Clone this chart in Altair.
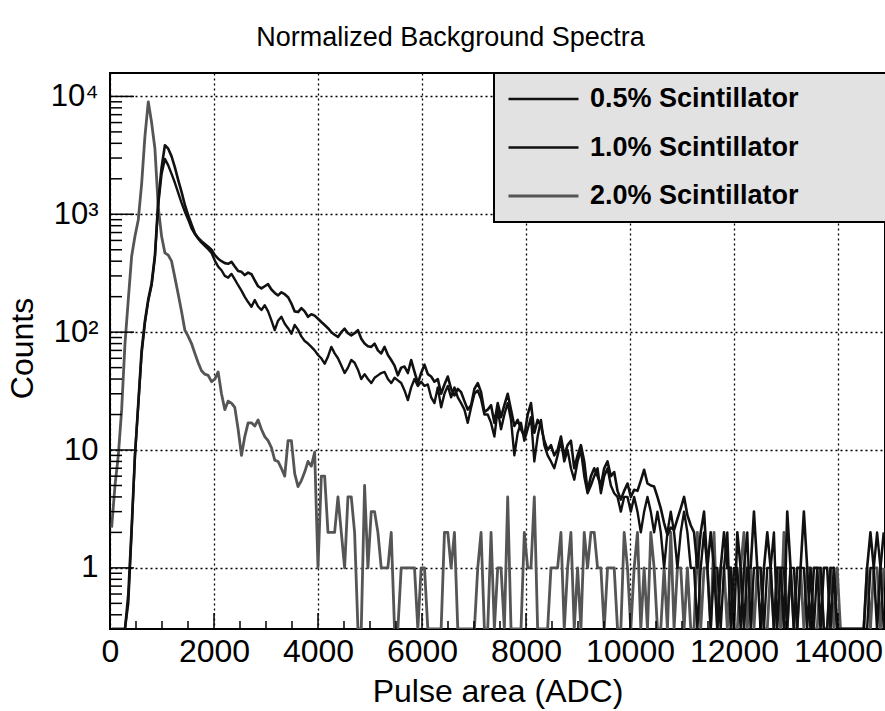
import altair as alt
import pandas as pd

# ---------------- data ----------------
BIN_WIDTH = 64  # ADC units per histogram bin
SERIES = ["0.5% Scintillator", "1.0% Scintillator", "2.0% Scintillator"]
COLORS = ["#111111", "#111111", "#555555"]
WIDTHS = [2.4, 2.8, 2.0]

counts_05 = [
    0, 0, 0, 0, 0, 0.5, 2, 9, 24, 65,                      # 0-9
    120, 185, 250, 430, 1200, 2200, 2950, 2600, 2200, 1850,  # 10-19
    1520, 1250, 1050, 900, 760, 680, 620, 575, 540, 505,     # 20-29
    470, 405, 360, 335, 300, 290, 312, 280, 250, 225,        # 30-39
    199, 180, 164, 187, 165, 154, 169, 150, 126, 104,        # 40-49
    125, 135, 118, 108, 97, 115, 105, 92, 84, 80,            # 50-59
    75, 70, 64, 60, 54, 62, 75, 66, 60, 52,                  # 60-69
    45, 50, 58, 55, 48, 40, 44, 40, 37, 41,                  # 70-79
    43, 45, 46, 40, 37, 41, 39, 37, 32, 26.5,                # 80-89
    34, 40, 35, 38, 35, 36, 28, 25, 34, 23,                  # 90-99
    30, 35, 28, 34, 28, 25, 22, 17, 23, 30,                  # 100-109
    32, 27, 20, 20, 17, 13, 22, 15, 20, 25,                  # 110-119
    18, 9, 14, 17, 12, 15, 19, 8, 13, 18,                    # 120-129
    11, 9, 8, 7, 9, 12, 8, 10, 7, 5.6,                       # 130-139
    8, 10, 6, 4.3, 5, 6, 7, 4.3, 6, 7,                       # 140-149
    5, 4.3, 4, 3, 4, 4, 3, 4, 3, 2,                          # 150-159
    3, 4, 3, 2, 3, 2, 1, 2, 3, 2,                            # 160-169
    1, 2, 3, 2, 1, 1, 0, 1, 2, 1,                            # 170-179
    0, 1, 1, 0, 1, 2, 0, 1, 1, 0,                            # 180-189
    1, 2, 0, 1, 1, 1, 0, 1, 1, 2,                            # 190-199
    0, 1, 1, 0, 1, 1, 0, 1, 1, 0,                            # 200-209
    1, 0, 1, 1, 0, 0, 1, 1, 0, 0,                            # 210-219
    0, 0, 0, 0, 0, 0, 0, 0, 1, 1,                            # 220-229
    2, 1, 0,                                                 # 230-232
]

counts_10 = [
    0, 0, 0, 0, 0, 0.6, 2.2, 9, 25, 70,                      # 0-9
    125, 190, 260, 450, 1300, 2500, 3850, 3600, 3100, 2500,  # 10-19
    1950, 1550, 1200, 980, 820, 690, 630, 590, 560, 530,     # 20-29
    500, 450, 420, 400, 385, 380, 395, 360, 330, 325,        # 30-39
    305, 320, 310, 275, 245, 235, 245, 255, 230, 215,        # 40-49
    205, 218, 210, 198, 175, 150, 148, 160, 150, 135,        # 50-59
    142, 138, 130, 122, 115, 108, 100, 95, 91, 100,          # 60-69
    107, 98, 94, 98, 104, 88, 80, 76, 75, 80,                # 70-79
    70, 66, 75, 64, 58, 52, 43, 50, 51, 45,                  # 80-89
    58, 46, 37, 45, 53, 44, 42, 38, 40, 30,                  # 90-99
    36, 42, 33, 29, 33, 31, 26, 22, 24, 33,                  # 100-109
    37, 31, 21, 22, 24, 17, 25, 19, 24, 30,                  # 110-119
    22, 16, 18, 15, 13, 20, 25, 14, 18, 16,                  # 120-129
    12, 10, 11, 9, 10, 13, 9, 11, 12, 7,                     # 130-139
    9, 11, 8, 4.5, 6, 7, 6, 5, 7, 8,                         # 140-149
    6, 6.5, 4.5, 3.8, 4.5, 5.2, 4, 4.6, 4.5, 5.5,            # 150-159
    6.8, 5.2, 5, 4.9, 4, 3.2, 2.4, 1.9, 2.2, 2.1,            # 160-169
    2.6, 3.2, 4, 2.8, 2.3, 2, 1, 2, 3, 1,                    # 170-179
    2, 1, 0, 1, 2, 1, 1, 0, 2, 1,                            # 180-189
    0, 1, 1, 3, 1, 0, 1, 2, 1, 0,                            # 190-199
    1, 1, 0, 3, 1, 0, 1, 1, 3, 1,                            # 200-209
    0, 1, 1, 0, 1, 1, 0, 1, 0, 0,                            # 210-219
    0, 0, 0, 0, 0, 0, 0, 1, 2, 1,                            # 220-229
    0, 1, 2,                                                 # 230-232
]

counts_20 = [
    2.2, 5, 9, 22, 80, 190, 440, 650, 900, 1800,             # 0-9
    4600, 9000, 6000, 3600, 1150, 650, 470, 450, 400, 290,   # 10-19
    210, 150, 104, 92, 80, 66, 55, 47, 44, 43,               # 20-29
    38, 40, 46, 30, 22, 26, 25, 23, 15, 9,                   # 30-39
    13, 17, 17, 16, 18, 15, 13, 12, 10.5, 8.2,               # 40-49
    8, 7, 6, 12, 12, 6.3, 4.9, 5.5, 6.5, 8,                  # 50-59
    7.3, 9.6, 1, 6, 6, 2, 2, 2, 4, 2,                        # 60-69
    1, 4, 4, 2, 0, 0, 5, 1, 3, 3,                            # 70-79
    2, 1, 1, 1, 2, 0, 0, 1, 1, 1,                            # 80-89
    1, 1, 0, 1, 1, 0, 0, 0, 0, 0,                            # 90-99
    2, 2, 1, 2, 0, 0, 0, 0, 0, 0,                            # 100-109
    1, 2, 0, 0, 2, 0, 1, 1, 0, 4,                            # 110-119
    0, 0, 0, 0, 2, 1, 1, 4, 0, 0,                            # 120-129
    0, 0, 1, 1, 1, 2, 0, 1, 2, 0,                            # 130-139
    1, 0, 2, 1, 2, 2, 1, 1, 0, 1,                            # 140-149
    1, 1, 0, 0, 2, 1, 0, 1, 2, 0,                            # 150-159
    1, 0, 2, 1, 0, 0, 1, 0, 2, 0,                            # 160-169
    1, 1, 0, 1, 0, 0, 2, 0, 1, 1,                            # 170-179
    0, 2, 0, 1, 1, 0, 1, 0, 0, 1,                            # 180-189
    2, 0, 1, 0, 1, 1, 0, 0, 1, 0,                            # 190-199
    1, 0, 2, 0, 1, 0, 0, 1, 0, 1,                            # 200-209
    1, 0, 0, 1, 0, 0, 1, 0, 1, 0,                            # 210-219
    0, 0, 0, 0, 0, 0, 0, 1, 0, 1,                            # 220-229
    1, 0, 1,                                                 # 230-232
]

X_DOMAIN = [0, 14904]
Y_DOMAIN = [0.303, 15800]
X_TICKS = [0, 2000, 4000, 6000, 8000, 10000, 12000, 14000]
X_MINOR = [v for v in range(500, 15000, 500) if v % 2000 != 0]
Y_TICKS = [1, 10, 100, 1000, 10000]
Y_MINOR = [m * 10 ** e for e in range(-1, 5) for m in range(2, 10)]
Y_MINOR = sorted(set(v for v in Y_MINOR if Y_DOMAIN[0] <= v <= Y_DOMAIN[1]))

W, H = 775, 556
FONT = "Liberation Sans"

rows = []
for name, vals in [(SERIES[2], counts_20), (SERIES[0], counts_05), (SERIES[1], counts_10)]:
    for i, v in enumerate(vals):
        rows.append({"series": name, "adc": BIN_WIDTH * i + BIN_WIDTH / 2, "counts": v})
df = pd.DataFrame(rows)

xscale = alt.Scale(domain=X_DOMAIN, nice=False, zero=False)
yscale = alt.Scale(type="log", domain=Y_DOMAIN, nice=False, clamp=True)

y_label_expr = ("datum.value >= 10000 ? '10\u2074' : datum.value >= 1000 ? '10\u00b3' : "
                "datum.value >= 100 ? '10\u00b2' : datum.value >= 10 ? '10' : '1'")

xaxis = alt.Axis(values=X_TICKS, format="d", title="Pulse area (ADC)",
                 labelFlush=False, labelOverlap=False, labelPadding=7, labelFontSize=32,
                 titleFontSize=32, titleY=62, titleBaseline="middle")
yaxis = alt.Axis(values=Y_TICKS, labelExpr=y_label_expr, title="Counts",
                 labelOverlap=False, labelPadding=12, labelFontSize=31,
                 titleFontSize=32, titleX=-88, titleY=275, titleBaseline="middle")

pad = "\u00a0" * 11 + "\u200b"

lines = alt.Chart(df).transform_calculate(
    yplot="datum.counts > 0 ? datum.counts : 0.01"
).mark_line(clip=True, strokeJoin="round").encode(
    x=alt.X("adc:Q", scale=xscale, axis=xaxis),
    y=alt.Y("yplot:Q", scale=yscale, axis=yaxis),
    color=alt.Color("series:N", scale=alt.Scale(domain=SERIES, range=COLORS),
                    legend=alt.Legend(title=None, orient="none", legendX=384, legendY=0,
                                      fillColor="#e2e2e2", strokeColor="black",
                                      padding=13, symbolType="stroke", symbolSize=4900,
                                      symbolStrokeWidth=2.5, labelFont=FONT,
                                      labelFontSize=27, labelFontWeight="bold",
                                      labelColor="black", labelLimit=600, labelOffset=10,
                                      rowPadding=21.5, clipHeight=26,
                                      labelExpr="datum.label + '" + pad + "'")),
    strokeWidth=alt.StrokeWidth("series:N", scale=alt.Scale(domain=SERIES, range=WIDTHS),
                                legend=None),
)

ymaj = alt.Chart(pd.DataFrame({"v": Y_TICKS})).mark_rule(color="black", strokeWidth=1.5).encode(
    y=alt.Y("v:Q", scale=yscale, axis=yaxis), x=alt.value(0), x2=alt.value(24))
ymin = alt.Chart(pd.DataFrame({"v": Y_MINOR})).mark_rule(color="black", strokeWidth=1.5).encode(
    y=alt.Y("v:Q", scale=yscale, axis=yaxis), x=alt.value(0), x2=alt.value(12))
xmaj = alt.Chart(pd.DataFrame({"v": X_TICKS})).mark_rule(color="black", strokeWidth=1.5).encode(
    x=alt.X("v:Q", scale=xscale, axis=xaxis), y=alt.value(H), y2=alt.value(H - 16))
xmin = alt.Chart(pd.DataFrame({"v": X_MINOR})).mark_rule(color="black", strokeWidth=1.5).encode(
    x=alt.X("v:Q", scale=xscale, axis=xaxis), y=alt.value(H), y2=alt.value(H - 8))

chart = alt.layer(lines, ymaj, ymin, xmaj, xmin).properties(
    width=W, height=H,
    title=alt.TitleParams("Normalized Background Spectra", fontSize=27, font=FONT,
                          fontWeight="normal", anchor="middle", dx=-47, offset=20,
                          color="black"),
    autosize=alt.AutoSizeParams(type="none"),
    padding={"left": 110, "top": 73, "right": 0, "bottom": 82},
    background="white",
).configure_view(stroke="black", strokeWidth=2).configure_axis(
    labelFont=FONT, labelColor="black",
    titleFont=FONT, titleFontWeight="normal", titleColor="black",
    ticks=False, domain=False, grid=True, gridColor="black", gridDash=[2, 3],
    gridWidth=1.3, gridOpacity=1,
).configure_legend(strokeWidth=2)

chart.save("out.html", embed_options={"renderer": "svg", "actions": False})
